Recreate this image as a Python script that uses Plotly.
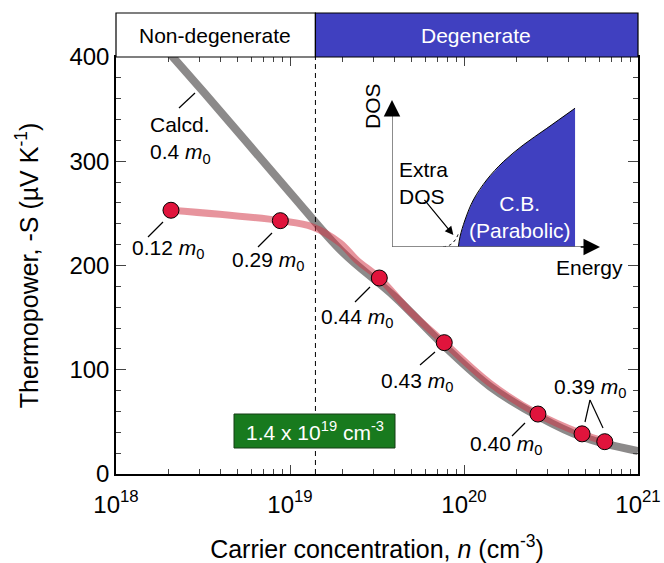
import math
import plotly.graph_objects as go

# ---------------- data ----------------
n_meas = [2.07e18, 8.8e18, 3.26e19, 7.7e19, 2.66e20, 4.77e20, 6.44e20]
S_meas = [253, 243, 188, 126, 57.5, 38.5, 31]
mass_labels = ["0.12", "0.29", "0.44", "0.43", "0.40", "0.39"]

# guide line through measured points
n_guide = [2.07e18, 8.8e18, 1.35e19, 1.94e19, 2.43e19, 3.26e19, 4.9e19, 7.7e19, 1.41e20, 2.66e20, 4.77e20, 6.44e20]
S_guide = [253, 243, 237, 221.6, 205, 188, 156, 126, 87, 57.5, 38.5, 31]

# calculated curve (0.4 m0)
n_calc = [1.6e18, 3.2e18, 1e19, 2e19, 4e19, 7.9e19, 1.41e20, 2.7e20, 4.8e20, 1e21]
S_calc = [423, 366, 270, 213, 170, 121, 84, 55, 35.5, 22]

n_threshold = 1.4e19

# inset schematic DOS
E_cb = [0.319, 0.327, 0.351, 0.391, 0.455, 0.535, 0.631, 0.744, 0.880]
D_cb = [0.0, 0.070, 0.184, 0.320, 0.456, 0.580, 0.694, 0.807, 0.944]
E_tail = [0.245, 0.280, 0.305, 0.322]
D_tail = [0.0, 0.015, 0.050, 0.100]

FONT = "Liberation Sans, Arial, sans-serif"
BLUE = "rgb(64,64,192)"

W, H = 664, 563
L, R, T, B = 116, 638, 57, 474
def px(X):
    return (X - L) / (R - L)
def py(Y):
    return (B - Y) / (B - T)

fig = go.Figure()

fig.add_trace(go.Scatter(x=n_calc, y=S_calc, mode="lines",
                         line=dict(color="rgb(140,138,138)", width=8, shape="spline"),
                         hoverinfo="skip", showlegend=False))
fig.add_trace(go.Scatter(x=[n_threshold, n_threshold], y=[0, 400], mode="lines",
                         line=dict(color="black", width=1, dash="5px,4px"),
                         showlegend=False))
fig.add_trace(go.Scatter(x=n_guide, y=S_guide, mode="lines",
                         line=dict(color="rgba(209,50,67,0.52)", width=7, shape="spline"),
                         showlegend=False))
fig.add_trace(go.Scatter(x=n_meas, y=S_meas, mode="markers",
                         marker=dict(color="#e0143c", size=16, line=dict(color="black", width=1)),
                         showlegend=False))

# inset
fig.add_trace(go.Scatter(x=E_cb + [E_cb[-1], E_cb[0]], y=D_cb + [0, 0], fill="toself",
                         fillcolor=BLUE, mode="lines", line=dict(width=0, color=BLUE),
                         xaxis="x2", yaxis="y2", showlegend=False))
fig.add_trace(go.Scatter(x=E_cb, y=D_cb, mode="lines", line=dict(color="black", width=1, shape="spline"),
                         xaxis="x2", yaxis="y2", showlegend=False))
fig.add_trace(go.Scatter(x=E_tail, y=D_tail, mode="lines", line=dict(color="black", width=1, dash="dot", shape="spline"),
                         xaxis="x2", yaxis="y2", showlegend=False))
fig.add_trace(go.Scatter(x=[0, 0.97], y=[0, 0], mode="lines", line=dict(color="#666", width=1.5),
                         xaxis="x2", yaxis="y2", showlegend=False))
fig.add_trace(go.Scatter(x=[0, 0], y=[0, 0.97], mode="lines", line=dict(color="#666", width=1.5),
                         xaxis="x2", yaxis="y2", showlegend=False))

anns = []
# arrow heads of the inset axes
anns.append(dict(x=1.0, y=0, ax=0.9, ay=0, xref="x2", yref="y2", axref="x2", ayref="y2",
                 text="", showarrow=True, arrowhead=2, arrowsize=2.2, arrowwidth=1.5, arrowcolor="black"))
anns.append(dict(x=0, y=1.0, ax=0, ay=0.9, xref="x2", yref="y2", axref="x2", ayref="y2",
                 text="", showarrow=True, arrowhead=2, arrowsize=2.2, arrowwidth=1.5, arrowcolor="black"))
anns.append(dict(x=0.295, y=0.082, ax=0.150, ay=0.331, xref="x2", yref="y2", axref="x2", ayref="y2",
                 text="", showarrow=True, arrowhead=2, arrowsize=1.4, arrowwidth=1.2, arrowcolor="black"))

def txt(X, Y, s, size=21, color="black", xanchor="center", align="center", angle=0):
    anns.append(dict(x=px(X), y=py(Y), xref="paper", yref="paper", text=s, showarrow=False,
                     xanchor=xanchor, yanchor="middle", align=align, textangle=angle,
                     font=dict(family=FONT, size=size, color=color)))

m0 = " <i>m</i><sub>0</sub>"
label_pos = [(168, 249), (268, 261), (357, 318), (417, 382), (506, 445), (590, 388)]
for lab, (X, Y) in zip(mass_labels, label_pos):
    txt(X, Y, lab + m0)
txt(148, 140, "Calcd.<br>0.4" + m0, xanchor="left", align="left")

txt(397, 183, "Extra<br>DOS", xanchor="left", align="left")
txt(520, 217, "C.B.<br>(Parabolic)", color="white")
txt(372, 106, "DOS", angle=-90)
txt(589, 267, "Energy")

txt(215, 35, "Non-degenerate", size=21)
txt(476, 35, "Degenerate", size=21, color="white")
txt(314.5, 431, "1.4 x 10<sup>19</sup> cm<sup>-3</sup>", color="white")

shapes = []
xb = (math.log10(n_threshold) - 18) / 3
shapes.append(dict(type="rect", xref="paper", yref="paper", x0=0, x1=xb, y0=1, y1=py(13),
                   fillcolor="white", line=dict(color="black", width=1.2), layer="above"))
shapes.append(dict(type="rect", xref="paper", yref="paper", x0=xb, x1=1, y0=1, y1=py(13),
                   fillcolor=BLUE, line=dict(color="black", width=1.2), layer="above"))
shapes.append(dict(type="rect", xref="paper", yref="paper", x0=px(234), x1=px(395), y0=py(448), y1=py(414),
                   fillcolor="rgb(24,122,30)", line=dict(color="rgb(20,60,20)", width=1), layer="above"))

leaders = [((148, 237), (163, 222)), ((258, 247), (272, 233)), ((355, 302), (370, 287)),
           ((420, 365), (435, 352)), ((512, 436), (525, 423)), ((590, 400), (585, 422)),
           ((590, 400), (603, 428)), ((179, 108), (195, 93))]
for (a, b) in leaders:
    shapes.append(dict(type="line", xref="paper", yref="paper", x0=px(a[0]), y0=py(a[1]),
                       x1=px(b[0]), y1=py(b[1]), line=dict(color="black", width=1.2)))

fig.update_layout(
    width=W, height=H,
    margin=dict(l=L, r=W - R, t=T, b=H - B, autoexpand=False),
    plot_bgcolor="white", paper_bgcolor="white",
    font=dict(family=FONT, size=24, color="black"),
    annotations=anns, shapes=shapes,
    xaxis=dict(type="log", range=[18, 21], tickvals=[1e18, 1e19, 1e20, 1e21],
               ticktext=["10<sup>18</sup>", "10<sup>19</sup>", "10<sup>20</sup>", "10<sup>21</sup>"],
               ticks="inside", ticklen=9, tickwidth=1.3, showline=True, linewidth=1.5, linecolor="black",
               mirror="allticks", showgrid=False, zeroline=False, automargin=False,
               minor=dict(ticks="inside", ticklen=5, tickwidth=1, dtick="D1", showgrid=False),
               tickfont=dict(size=24), ticklabelstandoff=8,
               title=dict(text="Carrier concentration, <i>n</i> (cm<sup>-3</sup>)", font=dict(size=25), standoff=28)),
    yaxis=dict(range=[0, 400], dtick=100, ticks="inside", ticklen=10, tickwidth=1.3, showline=True,
               linewidth=1.5, linecolor="black", mirror="allticks", showgrid=False, zeroline=False,
               automargin=False,
               minor=dict(ticks="inside", ticklen=5, tickwidth=1, dtick=20, showgrid=False),
               tickfont=dict(size=24),
               title=dict(text="Thermopower, -S (\u00b5V K<sup>-1</sup>)", font=dict(size=25), standoff=24)),
    xaxis2=dict(domain=[px(392), px(600)], range=[0, 1], anchor="y2", visible=False),
    yaxis2=dict(domain=[py(247), py(100)], range=[0, 1], anchor="x2", visible=False),
)

fig.write_html("out.html", config={"displayModeBar": False},
               post_script="document.body.style.margin='0';document.body.style.overflow='hidden';")
